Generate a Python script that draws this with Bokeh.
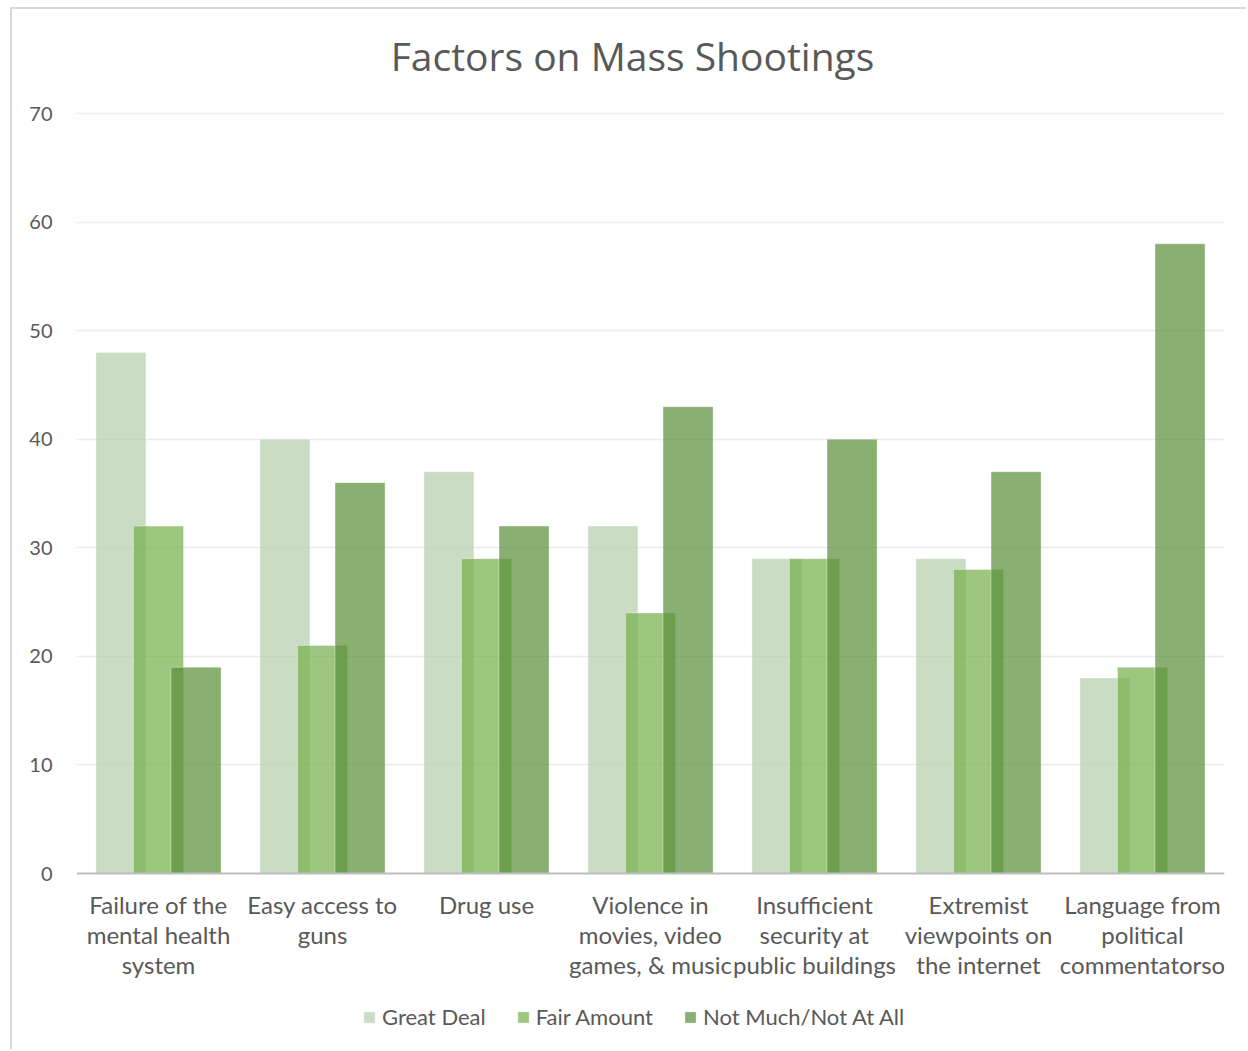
from bokeh.plotting import figure
from bokeh.models import (FactorRange, Range1d, Legend, LegendItem, FixedTicker,
                          ColumnDataSource, Span, Label)
from bokeh.core.properties import value
from bokeh.transform import dodge
from bokeh.embed import file_html
from bokeh.resources import INLINE

# Survey answers: how much each factor contributes to mass shootings (percent)
categories = [
    "Failure of the\nmental health\nsystem",
    "Easy access to\nguns",
    "Drug use",
    "Violence in\nmovies, video\ngames, & music",
    "Insufficient\nsecurity at\npublic buildings",
    "Extremist\nviewpoints on\nthe internet",
    "Language from\npolitical\ncommentatorso",
]
great_deal = [48, 40, 37, 32, 29, 29, 18]
fair_amount = [32, 21, 29, 24, 29, 28, 19]
not_much = [19, 36, 32, 43, 40, 37, 58]
series_names = ["Great Deal", "Fair Amount", "Not Much/Not At All"]
y_ticks = [0, 10, 20, 30, 40, 50, 60, 70]
chart_title = "Factors on Mass Shootings"

source = ColumnDataSource(dict(cat=categories, great=great_deal,
                               fair=fair_amount, notmuch=not_much,
                               base=[0] * len(categories)))

FONT = "Lato"
TEXT = "#595959"

# the frame spans the whole card, so title, category labels and legend sit inside it
p = figure(
    x_range=FactorRange(*categories),
    y_range=Range1d(-15.47, 78.66),
    width=1236, height=1042, title=None,
    output_backend="svg", toolbar_location=None,
    min_border_left=64, min_border_right=24,
    min_border_top=10, min_border_bottom=10,
    outline_line_color=None,
)
p.styles = {
    "margin-left": "10px",
    "margin-top": "7px",
    "border-top": "2px solid #D9D9D9",
    "border-left": "2px solid #D9D9D9",
}

# overlapping, semi-transparent clustered columns
colors = ["#B3CDA9", "#74AE48", "#598D37"]
fields = ["great", "fair", "notmuch"]
offsets = [-0.229, 0.0, 0.229]
renderers = []
for field, off, col in zip(fields, offsets, colors):
    r = p.vbar(x=dodge("cat", off, range=p.x_range), top=field, width=0.305,
               source=source, fill_color=col, fill_alpha=0.7,
               line_color="white", line_alpha=0.35, line_width=1)
    renderers.append(r)

# value axis
p.yaxis.ticker = FixedTicker(ticks=y_ticks)
p.yaxis.axis_line_color = None
p.yaxis.major_tick_line_color = None
p.yaxis.minor_tick_line_color = None
p.yaxis.major_label_text_font = FONT
p.yaxis.major_label_text_font_size = "20px"
p.yaxis.major_label_text_color = TEXT
p.yaxis.major_label_standoff = 18
p.xaxis.visible = False

p.xgrid.grid_line_color = None
p.ygrid.grid_line_color = "#EBEBEB"
p.ygrid.grid_line_width = 1.5

# category baseline and labels
p.add_layout(Span(location=0, dimension="width", line_color="#BFBFBF", line_width=2))
p.text(x="cat", y="base", text="cat", source=source,
       text_font=value(FONT), text_font_size="24px", text_color=TEXT,
       text_align="center", text_baseline="top", text_line_height=1.05,
       y_offset=16)

# chart title
p.add_layout(Label(x=556, y=986, x_units="screen", y_units="screen",
                   text=chart_title, text_font="Open Sans", text_font_size="39px",
                   text_color=TEXT, text_align="center", text_baseline="alphabetic"))

legend = Legend(
    items=[LegendItem(label=n, renderers=[r]) for n, r in zip(series_names, renderers)],
    orientation="horizontal", location=(286, 11),
    label_text_font=FONT, label_text_font_size="22px", label_text_color=TEXT,
    label_height=20, glyph_width=14, glyph_height=14, label_standoff=6, spacing=30,
    border_line_color=None, background_fill_alpha=0, padding=0, margin=0,
)
p.add_layout(legend, "center")

open("out.html", "w").write(file_html(p, INLINE))
